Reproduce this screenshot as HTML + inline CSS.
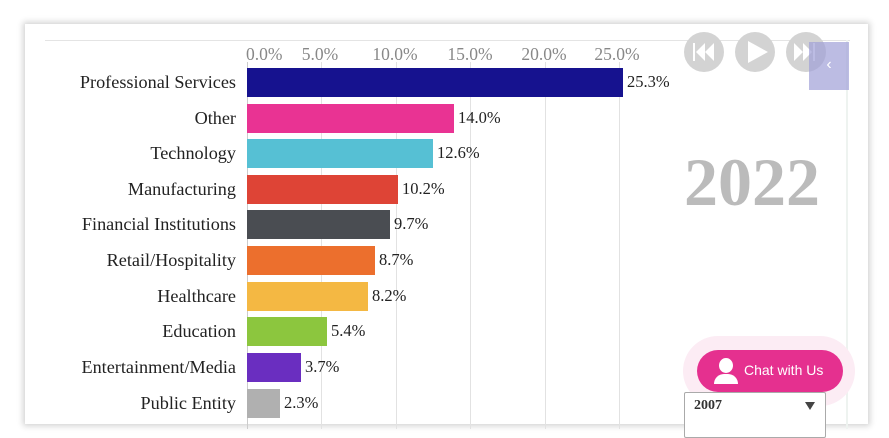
<!DOCTYPE html>
<html><head><meta charset="utf-8"><style>
body{margin:0;width:889px;height:429px;background:#fff;overflow:hidden;position:relative;font-family:"Liberation Serif",serif}
.card{position:absolute;left:25px;top:24px;width:843px;height:400px;background:#fff;box-shadow:0 0 6px 2px rgba(0,0,0,.18)}
.a{position:absolute}
.lbl{position:absolute;right:653px;font-size:18.2px;color:#222;text-align:right;white-space:nowrap;line-height:20px}
.bar{position:absolute;left:247px;height:29px}
.val{position:absolute;font-size:16.5px;color:#222;line-height:20px}
.tick{position:absolute;top:44px;font-size:17.5px;color:#888;width:70px;text-align:center;line-height:20px}
.grid{position:absolute;top:62px;width:1px;height:367px;background:#e2e2e2}
.circ{position:absolute;width:40px;height:40px;border-radius:50%;background:#d3d3d3;top:32px}
</style></head><body>
<div class="card"></div>
<div class="a" style="left:45px;top:40px;width:805px;height:1px;background:#e4e4e4"></div>
<div class="a" style="left:846px;top:40px;width:2px;height:389px;background:#eef3f0"></div>

<div class="grid" style="left:247px;background:#ccc"></div>
<div class="grid" style="left:321px"></div>
<div class="grid" style="left:396px"></div>
<div class="grid" style="left:470px"></div>
<div class="grid" style="left:545px"></div>
<div class="grid" style="left:619px"></div>
<div class="tick" style="left:246px;text-align:left">0.0%</div>
<div class="tick" style="left:285px">5.0%</div>
<div class="tick" style="left:360px">10.0%</div>
<div class="tick" style="left:435px">15.0%</div>
<div class="tick" style="left:509px">20.0%</div>
<div class="tick" style="left:582px">25.0%</div>

<div class="lbl" style="top:72px">Professional Services</div>
<div class="bar" style="top:68px;width:376px;background:#16128f"></div><div class="val" style="left:627px;top:72px">25.3%</div>
<div class="lbl" style="top:108px">Other</div>
<div class="bar" style="top:104px;width:207px;background:#e93393"></div><div class="val" style="left:458px;top:108px">14.0%</div>
<div class="lbl" style="top:143px">Technology</div>
<div class="bar" style="top:139px;width:186px;background:#56c0d4"></div><div class="val" style="left:437px;top:143px">12.6%</div>
<div class="lbl" style="top:179px">Manufacturing</div>
<div class="bar" style="top:175px;width:151px;background:#de4436"></div><div class="val" style="left:402px;top:179px">10.2%</div>
<div class="lbl" style="top:214px">Financial Institutions</div>
<div class="bar" style="top:210px;width:143px;background:#4a4d52"></div><div class="val" style="left:394px;top:214px">9.7%</div>
<div class="lbl" style="top:250px">Retail/Hospitality</div>
<div class="bar" style="top:246px;width:128px;background:#ec6f2d"></div><div class="val" style="left:379px;top:250px">8.7%</div>
<div class="lbl" style="top:286px">Healthcare</div>
<div class="bar" style="top:282px;width:121px;background:#f4b843"></div><div class="val" style="left:372px;top:286px">8.2%</div>
<div class="lbl" style="top:321px">Education</div>
<div class="bar" style="top:317px;width:80px;background:#8cc63e"></div><div class="val" style="left:331px;top:321px">5.4%</div>
<div class="lbl" style="top:357px">Entertainment/Media</div>
<div class="bar" style="top:353px;width:54px;background:#6a2ec0"></div><div class="val" style="left:305px;top:357px">3.7%</div>
<div class="lbl" style="top:393px">Public Entity</div>
<div class="bar" style="top:389px;width:33px;background:#b0b0b0"></div><div class="val" style="left:284px;top:393px">2.3%</div>

<div class="circ" style="left:684px"></div>
<div class="circ" style="left:735px"></div>
<div class="circ" style="left:786px"></div>
<svg class="a" style="left:684px;top:32px" width="145" height="40">
<g fill="#fff"><rect x="9" y="11" width="2" height="18"/><polygon points="21,11 12,20 21,29"/><polygon points="30,11 21,20 30,29"/>
<polygon points="64,9 64,31 84,20"/>
<polygon points="110,11 119,20 110,29"/><polygon points="119,11 128,20 119,29"/><rect x="129" y="11" width="2" height="18"/></g></svg>
<div class="a" style="left:809px;top:42px;width:40px;height:48px;background:rgba(160,160,215,.7);color:#fff;font-size:16px;text-align:center;line-height:46px;font-family:'Liberation Sans'">‹</div>

<div class="a" style="left:684px;top:154px;font-size:68px;font-weight:bold;color:#bbb;line-height:56px">2022</div>

<div class="a" style="left:683px;top:336px;width:172px;height:70px;border-radius:35px;background:#fcecf4"></div>
<div class="a" style="left:684px;top:392px;width:140px;height:44px;border:1px solid #aaa;background:#fff;border-radius:2px"></div>
<div class="a" style="left:694px;top:398px;font-size:14px;font-weight:bold;color:#333">2007</div>
<div class="a" style="left:805px;top:402px;width:0;height:0;border-top:8px solid #444;border-left:5px solid transparent;border-right:5px solid transparent"></div>
<div class="a" style="left:697px;top:350px;width:146px;height:42px;border-radius:21px;background:#e5308f"></div>
<div class="a" style="left:714px;top:358px;width:24px;height:26px">
<div class="a" style="left:5px;top:0;width:14px;height:15px;border-radius:50%;background:#fff"></div>
<div class="a" style="left:0;top:16px;width:24px;height:10px;border-radius:10px 10px 0 0;background:#fff"></div></div>
<div class="a" style="left:744px;top:362px;font-family:'Liberation Sans',sans-serif;font-size:14px;color:#fff">Chat with Us</div>
</body></html>
